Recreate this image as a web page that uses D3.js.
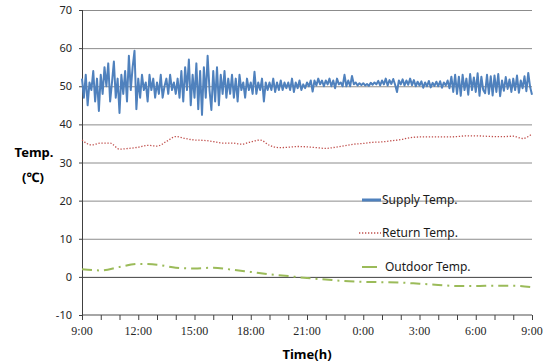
<!DOCTYPE html>
<html>
<head>
<meta charset="utf-8">
<script src="https://cdn.jsdelivr.net/npm/d3@7"></script>
<style>
  body { margin: 0; background: #fff; }
  svg { display: block; }
</style>
</head>
<body>
<svg id="chart"></svg>
<script>
// hours after 9:00, tick labels every 3 h
const tickHours = [0, 3, 6, 9, 12, 15, 18, 21, 24];
const tickLabels = ['9:00', '12:00', '15:00', '18:00', '21:00', '0:00', '3:00', '6:00', '9:00'];
const yTicks = [-10, 0, 10, 20, 30, 40, 50, 60, 70];

// supply temp, one sample every 6 minutes (0.1 h)
const supplyStep = 0.1;
const supply = [
  52, 47, 53, 45, 51, 49, 54, 46, 52, 43.5,
  53, 48, 55, 50, 56, 46, 51, 56.5, 47, 52,
  43, 53, 48, 54, 46, 58, 49, 55, 59.3, 44,
  52, 47, 53, 49, 51, 46, 53, 49, 52, 47,
  51, 48, 53, 47, 50, 52, 48, 53, 49, 51,
  48, 52, 47, 54, 46, 55, 49, 57, 45, 53,
  47, 56, 44, 54, 42.5, 55, 47, 58, 49, 43.8,
  54, 46, 55, 45, 53, 48, 54, 47, 52, 48,
  53, 47, 52, 46, 53, 49, 51, 47, 52, 49,
  51, 48, 53.8, 48, 51, 49, 52, 46, 51, 49,
  51, 49, 52, 48.5, 51, 49, 51.5, 49, 51, 49.5,
  51, 49, 52, 48.5, 51, 49.5, 51.5, 49, 50.5, 49.5,
  51, 50, 51.5, 48.6, 51.5, 50.2, 52, 50.5, 51.5, 50,
  51.5, 50.5, 52, 50, 51.5, 49.5, 52, 50.5, 51, 50,
  53, 50, 51.5, 50, 52.7, 50.5, 51, 50.2, 50.8, 50.3,
  50.8, 50.2, 50.6, 50.1, 50.9, 50.4, 51, 50.5, 51.4, 50.2,
  51.5, 50.5, 52, 50.2, 51.6, 50.6, 51.9, 50.4, 48.5, 51.5,
  50.5, 51.8, 50.2, 51.5, 50.4, 52, 50.3, 51.6, 50, 51.2,
  50.2, 51.3, 49.6, 51, 50, 51.4, 49.7, 50.9, 50.1, 51.2,
  50, 51.3, 49.6, 51, 50.2, 51.5, 49.5, 52.5, 48.5, 53,
  48, 52.5, 47.5, 53, 49, 52, 47.8, 53.2, 49, 52.3,
  48.5, 53.4, 47.5, 52.5, 49, 48.2, 53, 48, 52.6, 47.6,
  52.8, 48.5, 53.2, 47.4, 51.5, 48.8, 52.4, 49.3, 51.8, 48.5,
  52, 49, 52.8, 48.3, 51.5, 49.5, 52.6, 48.7, 53.5, 49.8,
  47.8
];

// return temp, every 0.5 h
const returnStep = 0.5;
const returnTemp = [
  35.9, 34.6, 35.1, 35.1, 33.5, 33.7, 34.0, 34.5, 34.3, 35.5,
  36.8, 36.3, 35.9, 35.8, 35.5, 35.1, 35.1, 34.8, 35.4, 35.9,
  34.5, 33.9, 34.0, 34.2, 34.1, 33.9, 33.7, 34.0, 34.4, 34.8,
  35.0, 35.3, 35.4, 35.7, 36.0, 36.5, 36.7, 36.7, 36.7, 36.7,
  36.8, 37.0, 37.0, 36.9, 36.8, 36.8, 36.9, 36.3, 37.5
];

// outdoor temp, every hour
const outdoorStep = 1;
const outdoor = [
  2.0, 1.7, 2.6, 3.4, 3.2, 2.4, 2.2, 2.4, 1.9, 1.3,
  0.7, 0.2, -0.3, -0.7, -1.1, -1.3, -1.4, -1.5, -1.8, -2.1,
  -2.4, -2.4, -2.3, -2.3, -2.7
];

const seriesNames = ['Supply Temp.', 'Return Temp.', 'Outdoor Temp.'];

const width = 547, height = 364;
const margin = { top: 10, right: 15, bottom: 49, left: 82 };

const svg = d3.select('#chart').attr('width', width).attr('height', height);

const x = d3.scaleLinear().domain([0, 24]).range([margin.left, width - margin.right]);
const y = d3.scaleLinear().domain([-10, 70]).range([height - margin.bottom, margin.top]);

// gridlines
svg.append('g')
  .selectAll('line')
  .data(yTicks.filter(d => d !== -10))
  .enter()
  .append('line')
  .attr('x1', x(0))
  .attr('x2', x(24))
  .attr('y1', d => y(d) + 0.5)
  .attr('y2', d => y(d) + 0.5)
  .attr('stroke', d => d === 0 ? '#404040' : '#8c8c8c')
  .attr('stroke-width', 1);

// x axis
const xAxis = svg.append('g')
  .attr('transform', 'translate(0,' + y(-10) + ')');
xAxis.append('line')
  .attr('x1', x(0)).attr('x2', x(24))
  .attr('stroke', '#a6a6a6').attr('stroke-width', 2);
xAxis.selectAll('.minor')
  .data(d3.range(0, 25))
  .enter()
  .append('line')
  .attr('x1', d => x(d) + 0.5).attr('x2', d => x(d) + 0.5)
  .attr('y1', 0).attr('y2', 5)
  .attr('stroke', '#404040');
xAxis.selectAll('text')
  .data(tickHours)
  .enter()
  .append('text')
  .attr('x', d => x(d))
  .attr('y', 20)
  .attr('text-anchor', 'middle')
  .style('font-family', '"Liberation Serif", serif')
  .style('font-size', '12px')
  .attr('fill', '#262626')
  .text((d, i) => tickLabels[i]);

// y axis
const yAxis = svg.append('g').attr('transform', 'translate(' + x(0) + ',0)');
yAxis.append('line')
  .attr('x1', 0.5).attr('x2', 0.5)
  .attr('y1', y(70)).attr('y2', y(-10))
  .attr('stroke', '#404040');
yAxis.selectAll('.tick')
  .data(yTicks)
  .enter()
  .append('line')
  .attr('x1', -3).attr('x2', 0)
  .attr('y1', d => y(d) + 0.5).attr('y2', d => y(d) + 0.5)
  .attr('stroke', '#404040');
yAxis.selectAll('text')
  .data(yTicks)
  .enter()
  .append('text')
  .attr('x', -10)
  .attr('y', d => y(d) + 4)
  .attr('text-anchor', 'end')
  .style('font-family', '"Noto Sans", sans-serif')
  .style('font-size', '11px')
  .attr('fill', '#262626')
  .text(d => d);

// axis titles
svg.append('text')
  .attr('x', 34).attr('y', 157)
  .attr('text-anchor', 'middle')
  .style('font-family', '"Noto Sans", sans-serif')
  .style('font-size', '13px').style('font-weight', 'bold')
  .text('Temp.');
svg.append('text')
  .attr('x', 33).attr('y', 182)
  .attr('text-anchor', 'middle')
  .style('font-family', '"Noto Sans", sans-serif')
  .style('font-size', '13px').style('font-weight', 'bold')
  .text('(℃)');
svg.append('text')
  .attr('x', 307).attr('y', 359)
  .attr('text-anchor', 'middle')
  .style('font-family', '"Noto Sans", sans-serif')
  .style('font-size', '13px').style('font-weight', 'bold')
  .text('Time(h)');

// series
const styles = [
  { color: '#4f81bd', width: 2, dash: null },
  { color: '#c0504d', width: 1.3, dash: '1.3,1.7' },
  { color: '#9bbb59', width: 2, dash: '10,5,2,5' }
];

const lineRaw = step => d3.line().x((d, i) => x(i * step)).y(d => y(d));
const lineSmooth = step => d3.line().x((d, i) => x(i * step)).y(d => y(d)).curve(d3.curveMonotoneX);

svg.append('path')
  .datum(outdoor)
  .attr('d', lineSmooth(outdoorStep))
  .attr('fill', 'none')
  .attr('stroke', styles[2].color)
  .attr('stroke-width', styles[2].width)
  .attr('stroke-dasharray', styles[2].dash);

svg.append('path')
  .datum(returnTemp)
  .attr('d', lineSmooth(returnStep))
  .attr('fill', 'none')
  .attr('stroke', styles[1].color)
  .attr('stroke-width', styles[1].width)
  .attr('stroke-dasharray', styles[1].dash);

svg.append('path')
  .datum(supply)
  .attr('d', lineRaw(supplyStep))
  .attr('fill', 'none')
  .attr('stroke', styles[0].color)
  .attr('stroke-width', styles[0].width)
  .attr('stroke-linejoin', 'round');

// legend
const legendY = [200, 233, 267];
const legend = svg.append('g');
seriesNames.forEach((name, i) => {
  const s = styles[i];
  legend.append('line')
    .attr('x1', i === 1 ? 359 : 362).attr('x2', i === 2 ? 377 : 381)
    .attr('y1', legendY[i]).attr('y2', legendY[i])
    .attr('stroke', s.color)
    .attr('stroke-width', i === 0 ? 3 : s.width)
    .attr('stroke-dasharray', i === 1 ? s.dash : null);
  legend.append('text')
    .attr('x', i === 2 ? 385 : 382)
    .attr('y', legendY[i] + 4)
    .style('font-family', '"Noto Sans", sans-serif')
    .style('font-size', '12px')
    .attr('fill', '#1a1a1a')
    .text(name);
});
</script>
</body>
</html>
